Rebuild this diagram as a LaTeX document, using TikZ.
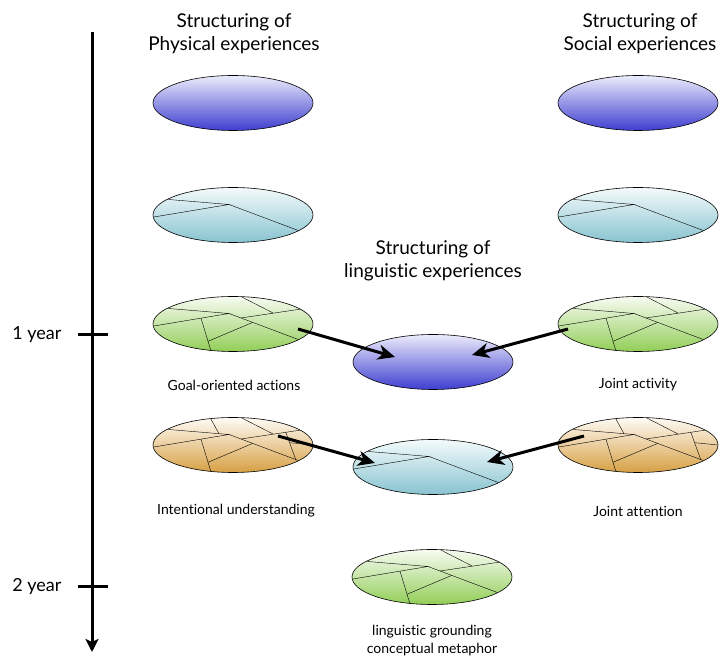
\documentclass[tikz,border=0pt]{standalone}
\usepackage{fontspec}
\setmainfont{Lato}[Ligatures=NoCommon]
\usetikzlibrary{arrows.meta, shapes.geometric}

\definecolor{blueT}{RGB}{236,236,252}
\definecolor{blueB}{RGB}{62,62,208}
\definecolor{cyanT}{RGB}{244,250,251}
\definecolor{cyanB}{RGB}{136,196,208}
\definecolor{greenT}{RGB}{247,251,242}
\definecolor{greenB}{RGB}{146,206,88}
\definecolor{orangeT}{RGB}{255,251,246}
\definecolor{orangeB}{RGB}{214,160,68}

% halkeamat
\newcommand{\crackbase}{%
	\draw (-80,16.8) -- (-4,10.5) -- (-90,-3.8);
	\draw (-4,10.5) -- (85,-22.9);}
\newcommand{\crackgreen}{%
	\draw (-3,33) -- (39.7,11.2);
	\draw (8,6) -- (85,17.5);
	\draw (-32,5.8) -- (-20.2,-33);
	\draw (-25,-17.3) -- (19.7,1.6);}
\newcommand{\crackorange}{%
	\draw (-26,33) -- (-14,11.3);
	\draw (52.7,13) -- (62.7,-14.5);
	\draw (56.7,2.3) -- (90,-1);}
\newcommand{\cracks}[2]{%
	\begin{scope}[shift={(#1)}]
	\clip (0,0) ellipse (79.6pt and 27.2pt);
	#2
	\end{scope}}

\begin{document}
\begin{tikzpicture}[x=1pt, y=1pt,
	ell/.style = {draw, ellipse, line width=0.6pt, minimum width=160pt, minimum height=55pt, inner sep=0pt, outer sep=0pt},
	bluee/.style = {ell, top color=blueT, bottom color=blueB},
	cyane/.style = {ell, top color=cyanT, bottom color=cyanB},
	greene/.style = {ell, top color=greenT, bottom color=greenB},
	orangee/.style = {ell, top color=orangeT, bottom color=orangeB},
	title/.style = {align=center, font=\fontsize{19}{23}\selectfont},
	small/.style = {align=center, font=\fontsize{14}{18}\selectfont},
	yearlab/.style = {font=\fontsize{18}{20}\selectfont},
	conn/.style = {line width=3pt, -{Stealth[length=17pt, width=15pt, inset=5pt]}}]
	\useasboundingbox (0,0) rectangle (720,658);
	% Aika-akseli
	\coordinate (ytop) at (92,626);
	\coordinate (ybot) at (92,6);
	\draw[line width=3pt, -{Stealth[length=13pt, width=13pt, inset=3pt]}] (ytop) -- (ybot);
	\coordinate (t1l) at (78,323);
	\coordinate (t1r) at (108,323);
	\coordinate (t2l) at (78,71);
	\coordinate (t2r) at (108,71);
	\draw[line width=3pt] (t1l) -- (t1r);
	\draw[line width=3pt] (t2l) -- (t2r);
	\node[yearlab, anchor=east] (y1) at (65,323) {1 year};
	\node[yearlab, anchor=east] (y2) at (65,71) {2 year};
	% Otsikot
	\node[title] (tphys) at (234,624) {Structuring of\\Physical experiences};
	\node[title] (tsoc) at (640,624) {Structuring of\\Social experiences};
	\node[title] (tling) at (433,397) {Structuring of\\linguistic experiences};
	% Ellipsit
	\node[bluee] (phys1) at (233,555) {};
	\node[cyane] (phys2) at (233,443) {};
	\node[greene] (phys3) at (233,334) {};
	\node[orangee] (phys4) at (233,213) {};
	\node[bluee] (soc1) at (638,555) {};
	\node[cyane] (soc2) at (638,443) {};
	\node[greene] (soc3) at (638,334) {};
	\node[orangee] (soc4) at (638,213) {};
	\node[bluee] (ling1) at (433,296) {};
	\node[cyane] (ling2) at (433,191) {};
	\node[greene] (ling3) at (432,81) {};
	\cracks{phys2}{\crackbase}
	\cracks{soc2}{\crackbase}
	\cracks{ling2}{\crackbase}
	\cracks{phys3}{\crackbase\crackgreen}
	\cracks{soc3}{\crackbase\crackgreen}
	\cracks{ling3}{\crackbase\crackgreen}
	\cracks{phys4}{\crackbase\crackgreen\crackorange}
	\cracks{soc4}{\crackbase\crackgreen\crackorange}
	% Tekstit
	\node[small] (goal) at (234,273) {Goal-oriented actions};
	\node[small] (jact) at (638,273) {Joint activity};
	\node[small] (intu) at (236,147) {Intentional understanding};
	\node[small] (jatt) at (638,147) {Joint attention};
	\node[small] (ground) at (432,17) {linguistic grounding\\conceptual metaphor};
	% Nuolet
	\draw[conn] ([shift={(65,-5)}]phys3.center) -- ([shift={(-38,5)}]ling1.center);
	\draw[conn] ([shift={(-70,-5)}]soc3.center) -- ([shift={(39,7)}]ling1.center);
	\draw[conn] ([shift={(45,9)}]phys4.center) -- ([shift={(-58,4)}]ling2.center);
	\draw[conn] ([shift={(-54,9)}]soc4.center) -- ([shift={(54,5)}]ling2.center);
\end{tikzpicture}
\end{document}
